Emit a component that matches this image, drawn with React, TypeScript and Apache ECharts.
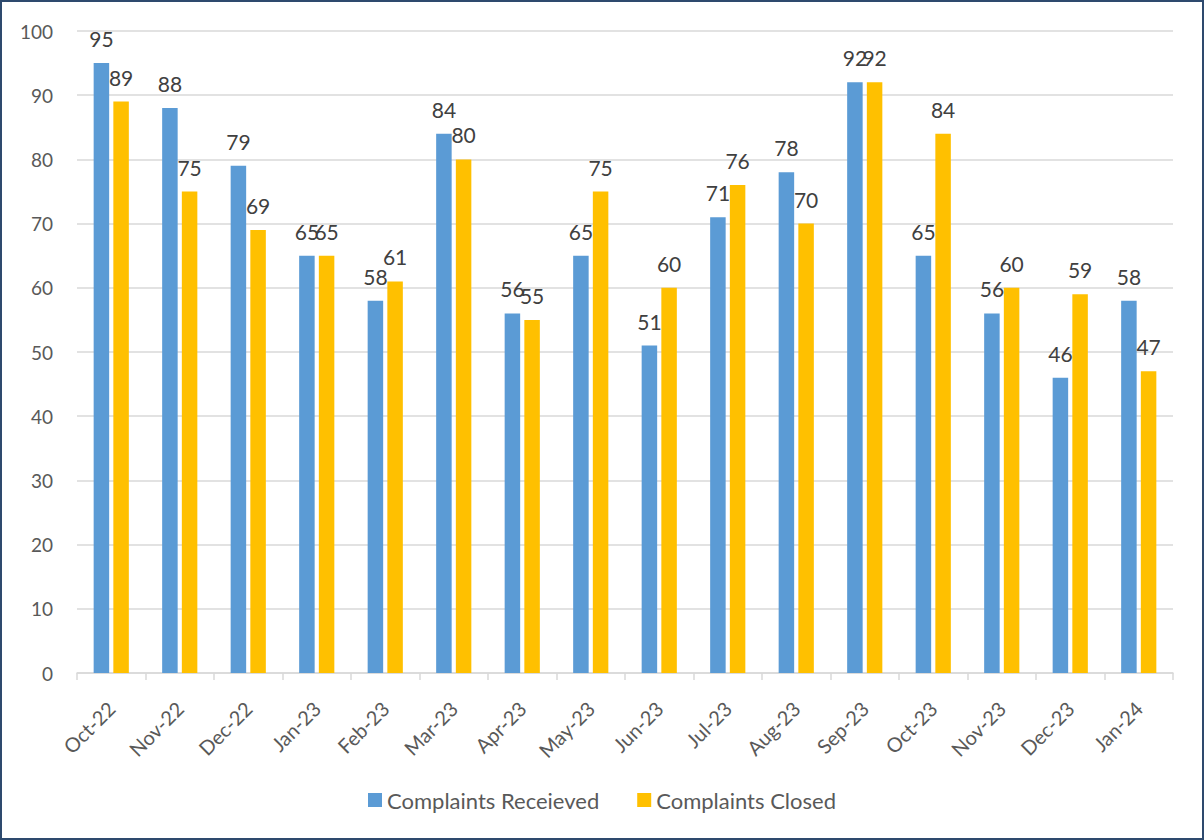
import React, { useEffect, useRef } from "react";
import * as echarts from "echarts";

const months = [
  "Oct-22", "Nov-22", "Dec-22", "Jan-23", "Feb-23", "Mar-23", "Apr-23", "May-23",
  "Jun-23", "Jul-23", "Aug-23", "Sep-23", "Oct-23", "Nov-23", "Dec-23", "Jan-24",
];
const received = [95, 88, 79, 65, 58, 84, 56, 65, 51, 71, 78, 92, 65, 56, 46, 58];
const closed = [89, 75, 69, 65, 61, 80, 55, 75, 60, 76, 70, 92, 84, 60, 59, 47];

const FONT = "Lato, 'Noto Sans', sans-serif";

export default function App() {
  const ref = useRef<HTMLDivElement>(null);

  useEffect(() => {
    document.body.style.margin = "0";
    if (!ref.current) return;
    const chart = echarts.init(ref.current, null, { renderer: "svg" });

    const label = {
      show: true,
      position: "top" as const,
      distance: 14,
      color: "#404040",
      fontSize: 21,
      fontFamily: FONT,
    };

    chart.setOption({
      animation: false,
      textStyle: { fontFamily: FONT },
      grid: { left: 77, right: 31, top: 31, bottom: 167, containLabel: false },
      legend: {
        top: 784,
        left: "center",
        itemWidth: 14,
        itemHeight: 14,
        itemGap: 38,
        icon: "rect",
        textStyle: { color: "#595959", fontSize: 22, fontFamily: FONT },
        data: ["Complaints Receieved", "Complaints Closed"],
      },
      xAxis: {
        type: "category",
        data: months,
        axisLine: { lineStyle: { color: "#D9D9D9", width: 1.5 } },
        axisTick: { show: true, length: 7, lineStyle: { color: "#D9D9D9", width: 1.5 } },
        axisLabel: {
          rotate: 45,
          margin: 32,
          color: "#595959",
          fontSize: 20,
          fontFamily: FONT,
        },
      },
      yAxis: {
        type: "value",
        min: 0,
        max: 100,
        interval: 10,
        axisLine: { show: false },
        axisTick: { show: false },
        axisLabel: { margin: 24, color: "#595959", fontSize: 19, fontFamily: FONT },
        splitLine: { lineStyle: { color: "#D9D9D9", width: 1.5 } },
      },
      series: [
        {
          name: "Complaints Receieved",
          type: "bar",
          data: received,
          barWidth: 15.5,
          barGap: "27%",
          itemStyle: { color: "#5B9BD5" },
          label,
        },
        {
          name: "Complaints Closed",
          type: "bar",
          data: closed,
          barWidth: 15.5,
          itemStyle: { color: "#FFC000" },
          label,
        },
      ],
    });

    return () => chart.dispose();
  }, []);

  return (
    <div style={{ width: 1204, height: 840, background: "#ffffff", position: "relative" }}>
      <div ref={ref} style={{ position: "absolute", left: 0, top: 0, width: 1204, height: 840 }} />
      <div
        style={{
          position: "absolute",
          left: 0,
          top: 0,
          width: 1204,
          height: 840,
          boxSizing: "border-box",
          border: "2px solid #2E4A6E",
          pointerEvents: "none",
        }}
      />
    </div>
  );
}
